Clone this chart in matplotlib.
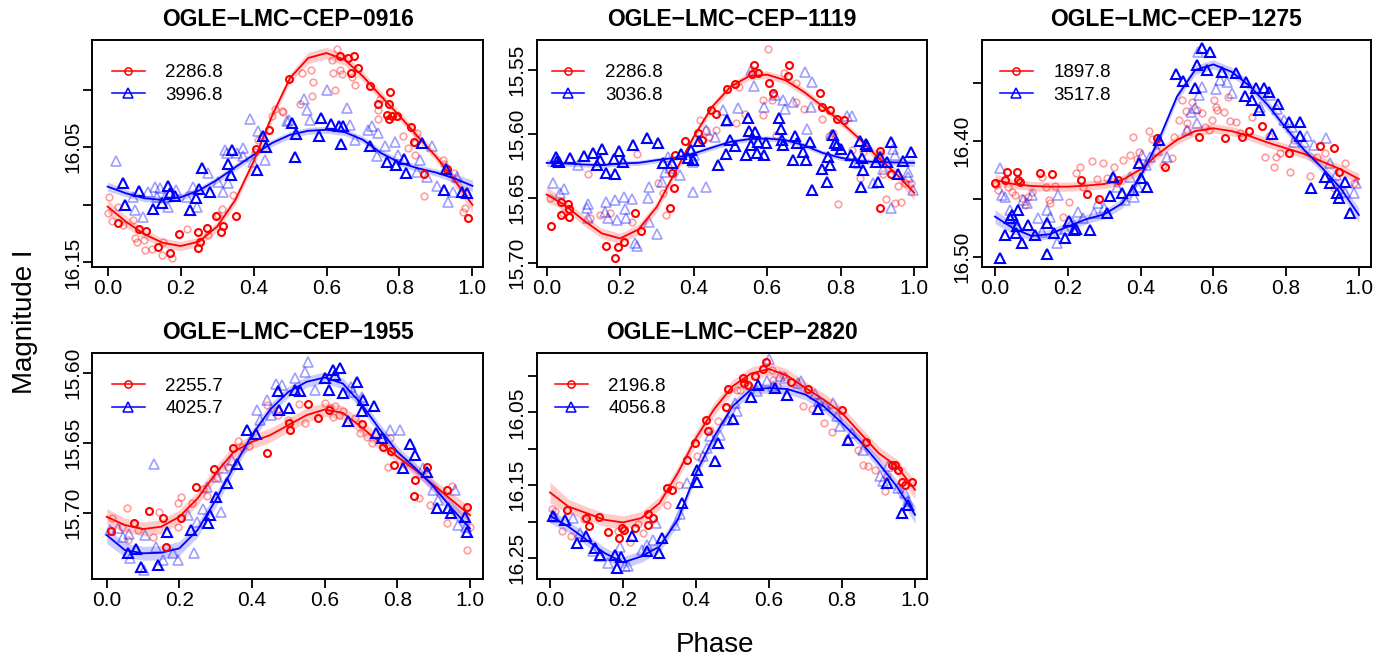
import matplotlib
matplotlib.use('Agg')
import matplotlib.pyplot as plt
from matplotlib.lines import Line2D

plt.rcParams['font.family'] = ['Liberation Sans', 'DejaVu Sans']

W, H = 1391, 661

# ---------------- data ----------------
phase_grid = [0.00, 0.05, 0.10, 0.15, 0.20, 0.25, 0.30, 0.35, 0.40, 0.45, 0.50,
              0.55, 0.60, 0.65, 0.70, 0.75, 0.80, 0.85, 0.90, 0.95, 1.00]
x_ticks = [0.0, 0.2, 0.4, 0.6, 0.8, 1.0]
x_ticklabels = ['0.0', '0.2', '0.4', '0.6', '0.8', '1.0']

titles = ['OGLE\u2212LMC\u2212CEP\u22120916', 'OGLE\u2212LMC\u2212CEP\u22121119',
          'OGLE\u2212LMC\u2212CEP\u22121275', 'OGLE\u2212LMC\u2212CEP\u22121955',
          'OGLE\u2212LMC\u2212CEP\u22122820']
legend_red = ['2286.8', '2286.8', '1897.8', '2255.7', '2196.8']
legend_blue = ['3996.8', '3036.8', '3517.8', '4025.7', '4056.8']

y_ticks = [[16.00, 16.05, 16.10, 16.15],
           [15.55, 15.60, 15.65, 15.70],
           [16.35, 16.40, 16.45, 16.50],
           [15.60, 15.65, 15.70],
           [16.00, 16.05, 16.10, 16.15, 16.20, 16.25]]
y_ticklabels = [['', '16.05', '', '16.15'],
                ['15.55', '15.60', '15.65', '15.70'],
                ['', '16.40', '', '16.50'],
                ['15.60', '15.65', '15.70'],
                ['', '16.05', '', '16.15', '', '16.25']]

# ---- Panel 1: OGLE-LMC-CEP-0916 ----
p1_red_fit = [16.1016, 16.1146, 16.1254, 16.1329, 16.1358, 16.1320, 16.1190, 16.0958, 16.0625, 16.0233, 15.9900,
              15.9726, 15.9683, 15.9741, 15.9886, 16.0059, 16.0228, 16.0407, 16.0581, 16.0784, 16.1001]
p1_blue_fit = [16.0842, 16.0900, 16.0943, 16.0958, 16.0935, 16.0877, 16.0784, 16.0674, 16.0567, 16.0465, 16.0393,
               16.0358, 16.0349, 16.0370, 16.0436, 16.0552, 16.0633, 16.0683, 16.0720, 16.0770, 16.0836]
p1_red_band = [0.006, 0.005, 0.004, 0.004, 0.004, 0.004, 0.004, 0.004, 0.004, 0.004, 0.004,
               0.005, 0.005, 0.005, 0.004, 0.004, 0.004, 0.004, 0.004, 0.005, 0.006]
p1_blue_band = [0.004, 0.003, 0.003, 0.003, 0.003, 0.003, 0.003, 0.003, 0.003, 0.003, 0.003,
                0.003, 0.003, 0.003, 0.003, 0.003, 0.003, 0.003, 0.003, 0.004, 0.005]
p1_red_dark = [(0.029, 16.1155), (0.087, 16.1213), (0.105, 16.1225), (0.139, 16.1364), (0.171, 16.1422),
               (0.197, 16.1254), (0.249, 16.1233), (0.253, 16.1320), (0.249, 16.1378), (0.273, 16.1204),
               (0.297, 16.1097), (0.310, 16.1233), (0.315, 16.1181), (0.352, 16.1094), (0.407, 16.0514),
               (0.443, 16.0355), (0.497, 15.9906), (0.637, 15.9706), (0.660, 15.9726), (0.675, 15.9706),
               (0.666, 15.9857), (0.687, 15.9813), (0.719, 15.9972), (0.774, 16.0025), (0.742, 16.0126),
               (0.772, 16.0126), (0.765, 16.0219), (0.779, 16.0228), (0.771, 16.0257), (0.794, 16.0228),
               (0.832, 16.0326), (0.840, 16.0454), (0.868, 16.0735), (0.930, 16.0691), (0.987, 16.1112)]
p1_red_faint = [(0.004, 16.0929), (0.002, 16.1074), (0.011, 16.1141), (0.043, 16.1175), (0.070, 16.1132),
                (0.029, 16.1016), (0.075, 16.1291), (0.080, 16.1320), (0.100, 16.1306), (0.102, 16.1393),
                (0.121, 16.1387), (0.148, 16.1436), (0.176, 16.1465), (0.153, 16.1320), (0.218, 16.1213),
                (0.276, 16.1262), (0.313, 16.1039), (0.303, 16.1088), (0.345, 16.0914), (0.404, 16.0538),
                (0.413, 16.0436), (0.422, 16.0407), (0.450, 16.0228), (0.459, 16.0170), (0.477, 16.0190),
                (0.480, 16.0199), (0.532, 15.9857), (0.557, 15.9828), (0.564, 15.9938), (0.559, 16.0054),
                (0.527, 16.0123), (0.614, 15.9746), (0.619, 15.9857), (0.628, 15.9645), (0.637, 15.9828),
                (0.642, 15.9862), (0.622, 16.0007), (0.669, 15.9894), (0.678, 15.9958), (0.742, 16.0175),
                (0.742, 16.0257), (0.746, 16.0083), (0.811, 16.0407), (0.824, 16.0503), (0.843, 16.0465),
                (0.847, 16.0378), (0.843, 16.0567), (0.868, 16.0923), (0.918, 16.0610), (0.922, 16.0645),
                (0.950, 16.0726), (0.973, 16.1065), (0.980, 16.1030)]
p1_blue_dark = [(0.043, 16.0813), (0.087, 16.0877), (0.048, 16.1001), (0.125, 16.1039), (0.166, 16.0833),
                (0.171, 16.0900), (0.185, 16.0920), (0.148, 16.0981), (0.226, 16.1045), (0.242, 16.0943),
                (0.251, 16.0865), (0.258, 16.0683), (0.281, 16.0886), (0.331, 16.0645), (0.337, 16.0741),
                (0.340, 16.0523), (0.409, 16.0697), (0.427, 16.0407), (0.433, 16.0497), (0.506, 16.0286),
                (0.516, 16.0387), (0.514, 16.0587), (0.580, 16.0407), (0.584, 16.0248), (0.612, 16.0297),
                (0.633, 16.0320), (0.646, 16.0314), (0.640, 16.0471), (0.719, 16.0488), (0.765, 16.0630),
                (0.790, 16.0654), (0.813, 16.0604), (0.818, 16.0720), (0.861, 16.0465), (0.928, 16.0691),
                (0.923, 16.0871), (0.971, 16.0886), (0.984, 16.0900)]
p1_blue_faint = [(0.023, 16.0616), (0.070, 16.0929), (0.075, 16.1045), (0.098, 16.1103), (0.112, 16.0886),
                 (0.130, 16.0842), (0.134, 16.0929), (0.144, 16.0857), (0.157, 16.0935), (0.166, 16.1016),
                 (0.187, 16.0871), (0.217, 16.0929), (0.235, 16.0842), (0.244, 16.1016), (0.276, 16.0726),
                 (0.303, 16.0799), (0.317, 16.0886), (0.322, 16.0523), (0.326, 16.0552), (0.331, 16.0813),
                 (0.354, 16.0552), (0.372, 16.0509), (0.372, 16.0581), (0.390, 16.0257), (0.399, 16.0625),
                 (0.413, 16.0364), (0.431, 16.0610), (0.491, 16.0277), (0.498, 16.0262), (0.538, 16.0083),
                 (0.546, 16.0175), (0.555, 16.0262), (0.601, 16.0007), (0.655, 16.0161), (0.665, 16.0306),
                 (0.678, 16.0436), (0.715, 16.0355), (0.724, 16.0314), (0.742, 16.0378), (0.761, 16.0488),
                 (0.738, 16.0581), (0.788, 16.0451), (0.797, 16.0567), (0.847, 16.0712), (0.856, 16.0610),
                 (0.888, 16.0494), (0.875, 16.0755), (0.902, 16.0836), (0.934, 16.0972), (0.948, 16.0886),
                 (0.957, 16.0755)]

# ---- Panel 2: OGLE-LMC-CEP-1119 ----
p2_red_fit = [15.6470, 15.6553, 15.6669, 15.6772, 15.6811, 15.6741, 15.6565, 15.6294, 15.6022, 15.5790, 15.5634,
              15.5552, 15.5539, 15.5583, 15.5673, 15.5784, 15.5906, 15.6035, 15.6178, 15.6307, 15.6457]
p2_blue_fit = [15.6224, 15.6229, 15.6237, 15.6242, 15.6229, 15.6224, 15.6203, 15.6185, 15.6152, 15.6105, 15.6061,
               15.6040, 15.6035, 15.6048, 15.6087, 15.6146, 15.6185, 15.6209, 15.6219, 15.6221, 15.6224]
p2_red_band = [0.006, 0.004, 0.004, 0.004, 0.004, 0.004, 0.004, 0.003, 0.003, 0.003, 0.003,
               0.003, 0.003, 0.003, 0.003, 0.003, 0.003, 0.003, 0.004, 0.004, 0.006]
p2_blue_band = [0.003, 0.002, 0.002, 0.002, 0.002, 0.002, 0.002, 0.002, 0.002, 0.002, 0.002,
                0.002, 0.002, 0.002, 0.002, 0.002, 0.002, 0.002, 0.002, 0.002, 0.003]
p2_red_dark = [(0.012, 15.6715), (0.039, 15.6532), (0.039, 15.6630), (0.059, 15.6540), (0.061, 15.6584),
               (0.062, 15.6643), (0.161, 15.6870), (0.186, 15.6966), (0.195, 15.6881), (0.211, 15.6842),
               (0.240, 15.6615), (0.258, 15.6752), (0.335, 15.6573), (0.346, 15.6423), (0.342, 15.6302),
               (0.349, 15.6165), (0.376, 15.6053), (0.413, 15.5991), (0.422, 15.6048), (0.447, 15.5810),
               (0.461, 15.5841), (0.490, 15.5653), (0.512, 15.5611), (0.558, 15.5531), (0.565, 15.5461),
               (0.574, 15.5526), (0.606, 15.5601), (0.617, 15.5681), (0.660, 15.5461), (0.657, 15.5552),
               (0.743, 15.5681), (0.748, 15.5790), (0.771, 15.5815), (0.789, 15.5880), (0.810, 15.5888),
               (0.907, 15.6131), (0.907, 15.6578), (0.938, 15.6307)]
p2_red_faint = [(0.009, 15.6496), (0.044, 15.6612), (0.113, 15.6312), (0.145, 15.6630), (0.118, 15.6656),
                (0.172, 15.6612), (0.245, 15.6157), (0.231, 15.6687), (0.304, 15.6379), (0.317, 15.6457),
                (0.326, 15.6630), (0.417, 15.5893), (0.433, 15.5971), (0.442, 15.6022), (0.462, 15.5971),
                (0.515, 15.5914), (0.524, 15.5634), (0.539, 15.5841), (0.565, 15.5500), (0.589, 15.5854),
                (0.589, 15.5733), (0.601, 15.5337), (0.612, 15.5738), (0.617, 15.5699), (0.623, 15.6004),
                (0.646, 15.5523), (0.678, 15.5603), (0.678, 15.5751), (0.701, 15.5803), (0.748, 15.5880),
                (0.769, 15.6017), (0.780, 15.5996), (0.793, 15.6540), (0.830, 15.6126), (0.852, 15.6338),
                (0.861, 15.6139), (0.898, 15.6190), (0.907, 15.6152), (0.914, 15.6312), (0.923, 15.6501),
                (0.947, 15.6534), (0.964, 15.6527), (0.956, 15.6402), (0.975, 15.6377), (0.990, 15.6384)]
p2_blue_dark = [(0.025, 15.6178), (0.027, 15.6211), (0.034, 15.6216), (0.063, 15.6183), (0.102, 15.6170),
                (0.125, 15.6144), (0.136, 15.6242), (0.150, 15.6113), (0.145, 15.6203), (0.161, 15.6302),
                (0.186, 15.6307), (0.183, 15.6198), (0.198, 15.6131), (0.207, 15.6216), (0.234, 15.6087),
                (0.272, 15.6035), (0.302, 15.6069), (0.317, 15.6229), (0.340, 15.6224), (0.365, 15.6157),
                (0.385, 15.6183), (0.393, 15.6126), (0.397, 15.6203), (0.414, 15.6053), (0.467, 15.6242),
                (0.490, 15.5893), (0.499, 15.6048), (0.512, 15.6095), (0.487, 15.6157), (0.542, 15.6165),
                (0.548, 15.5875), (0.551, 15.5978), (0.557, 15.6087), (0.567, 15.5983), (0.571, 15.6146),
                (0.576, 15.6061), (0.591, 15.6165), (0.598, 15.6069), (0.633, 15.5872), (0.639, 15.6048),
                (0.637, 15.5958), (0.644, 15.6082), (0.671, 15.6203), (0.675, 15.6017), (0.680, 15.6069),
                (0.698, 15.6139), (0.705, 15.6203), (0.716, 15.6061), (0.721, 15.6436), (0.748, 15.6268),
                (0.762, 15.6370), (0.766, 15.6178), (0.770, 15.6242), (0.780, 15.6009), (0.784, 15.6069),
                (0.791, 15.6087), (0.802, 15.6113), (0.829, 15.6165), (0.838, 15.6216), (0.852, 15.6053),
                (0.855, 15.6410), (0.857, 15.6185), (0.861, 15.6276), (0.869, 15.6074), (0.872, 15.6095),
                (0.896, 15.6216), (0.902, 15.6370), (0.907, 15.6178), (0.925, 15.6216), (0.938, 15.6061),
                (0.956, 15.6312), (0.970, 15.6211), (0.990, 15.6139)]
p2_blue_faint = [(0.018, 15.6377), (0.036, 15.6462), (0.048, 15.6428), (0.086, 15.6237), (0.109, 15.6578),
                 (0.113, 15.6540), (0.112, 15.6656), (0.161, 15.6527), (0.159, 15.6604), (0.168, 15.6656),
                 (0.186, 15.6514), (0.192, 15.6669), (0.210, 15.6488), (0.213, 15.6586), (0.217, 15.6656),
                 (0.231, 15.6501), (0.240, 15.6850), (0.245, 15.6871), (0.275, 15.6496), (0.279, 15.6682),
                 (0.278, 15.6410), (0.301, 15.6778), (0.313, 15.6372), (0.322, 15.6294), (0.331, 15.6178),
                 (0.337, 15.6263), (0.363, 15.6320), (0.399, 15.6216), (0.397, 15.6454), (0.401, 15.6165),
                 (0.433, 15.5971), (0.433, 15.6410), (0.458, 15.6022), (0.480, 15.5815), (0.488, 15.5896),
                 (0.521, 15.5795), (0.557, 15.5505), (0.564, 15.5629), (0.591, 15.5790), (0.621, 15.5699),
                 (0.642, 15.5738), (0.648, 15.5803), (0.669, 15.5751), (0.703, 15.5518), (0.721, 15.5596),
                 (0.707, 15.5965), (0.719, 15.5790), (0.775, 15.6009), (0.816, 15.5862), (0.832, 15.5862),
                 (0.848, 15.6229), (0.888, 15.6384), (0.916, 15.6268), (0.938, 15.6578), (0.943, 15.6113),
                 (0.947, 15.6165), (0.984, 15.6294), (0.984, 15.6333), (0.997, 15.6436)]

# ---- Panel 3: OGLE-LMC-CEP-1275 ----
p3_red_fit = [16.4337, 16.4372, 16.4389, 16.4395, 16.4395, 16.4386, 16.4372, 16.4337, 16.4245, 16.4107, 16.3991,
              16.3914, 16.3890, 16.3914, 16.3957, 16.4014, 16.4063, 16.4112, 16.4179, 16.4245, 16.4329]
p3_blue_fit = [16.4654, 16.4755, 16.4821, 16.4807, 16.4740, 16.4677, 16.4634, 16.4539, 16.4308, 16.3991, 16.3617,
               16.3386, 16.3337, 16.3401, 16.3524, 16.3689, 16.3890, 16.4078, 16.4236, 16.4409, 16.4640]
p3_red_band = [0.005, 0.004, 0.004, 0.004, 0.004, 0.004, 0.004, 0.004, 0.004, 0.004, 0.004,
               0.004, 0.004, 0.004, 0.004, 0.004, 0.004, 0.004, 0.004, 0.004, 0.005]
p3_blue_band = [0.006, 0.005, 0.004, 0.004, 0.004, 0.004, 0.004, 0.004, 0.004, 0.004, 0.004,
                0.004, 0.004, 0.004, 0.004, 0.004, 0.004, 0.004, 0.004, 0.005, 0.006]
p3_red_dark = [(0.000, 16.4366), (0.028, 16.4337), (0.032, 16.4265), (0.060, 16.4265), (0.064, 16.4337),
               (0.068, 16.4357), (0.124, 16.4280), (0.156, 16.4285), (0.236, 16.4337), (0.252, 16.4458),
               (0.287, 16.4504), (0.339, 16.4337), (0.445, 16.3977), (0.466, 16.4228), (0.561, 16.3968),
               (0.633, 16.3977), (0.679, 16.3968), (0.697, 16.3911), (0.734, 16.3867), (0.807, 16.4107),
               (0.894, 16.4043), (0.931, 16.4058), (0.945, 16.4265)]
p3_red_faint = [(0.003, 16.4380), (0.009, 16.4424), (0.037, 16.4395), (0.046, 16.4438), (0.055, 16.4467),
                (0.073, 16.4496), (0.083, 16.4553), (0.092, 16.4481), (0.101, 16.4438), (0.128, 16.4308),
                (0.140, 16.4395), (0.147, 16.4510), (0.151, 16.4539), (0.165, 16.4389), (0.188, 16.4654),
                (0.202, 16.4524), (0.223, 16.4280), (0.234, 16.4228), (0.241, 16.4395), (0.266, 16.4173),
                (0.280, 16.4329), (0.296, 16.4187), (0.307, 16.4323), (0.326, 16.4228), (0.335, 16.4366),
                (0.351, 16.4164), (0.372, 16.4121), (0.379, 16.3963), (0.390, 16.4159), (0.397, 16.4092),
                (0.422, 16.3914), (0.431, 16.3986), (0.445, 16.4035), (0.461, 16.4207), (0.486, 16.4150),
                (0.491, 16.3963), (0.507, 16.3818), (0.514, 16.3646), (0.526, 16.3738), (0.528, 16.3841),
                (0.529, 16.3905), (0.541, 16.3660), (0.555, 16.3732), (0.569, 16.3760), (0.578, 16.3876),
                (0.587, 16.3905), (0.596, 16.3818), (0.601, 16.3646), (0.606, 16.3703), (0.610, 16.3732),
                (0.628, 16.3746), (0.640, 16.3617), (0.647, 16.3824), (0.661, 16.3833), (0.674, 16.3934),
                (0.706, 16.3790), (0.743, 16.4135), (0.752, 16.3957), (0.766, 16.4222), (0.773, 16.4135),
                (0.784, 16.4107), (0.812, 16.4265), (0.821, 16.3991), (0.867, 16.4300), (0.885, 16.4135),
                (0.908, 16.4107), (0.931, 16.4409), (0.963, 16.4187), (0.986, 16.4366)]
p3_blue_dark = [(0.014, 16.5009), (0.028, 16.4813), (0.041, 16.4663), (0.046, 16.4640), (0.058, 16.4798),
                (0.061, 16.4735), (0.064, 16.4597), (0.073, 16.4885), (0.092, 16.4726), (0.110, 16.4813),
                (0.142, 16.4977), (0.144, 16.4712), (0.161, 16.4792), (0.193, 16.4841), (0.202, 16.4689),
                (0.216, 16.4769), (0.223, 16.4758), (0.261, 16.4767), (0.307, 16.4625), (0.317, 16.4476),
                (0.323, 16.4308), (0.349, 16.4452), (0.379, 16.4424), (0.397, 16.4187), (0.401, 16.4323),
                (0.417, 16.4395), (0.450, 16.3991), (0.498, 16.3421), (0.518, 16.3478), (0.550, 16.3545),
                (0.555, 16.3343), (0.569, 16.3199), (0.592, 16.3228), (0.583, 16.3386), (0.624, 16.3401),
                (0.661, 16.3415), (0.686, 16.3611), (0.691, 16.3487), (0.706, 16.3646), (0.716, 16.3545),
                (0.725, 16.3732), (0.739, 16.3545), (0.752, 16.3574), (0.761, 16.3940), (0.777, 16.3680),
                (0.807, 16.3833), (0.838, 16.3833), (0.838, 16.3957), (0.869, 16.4409), (0.908, 16.4308),
                (0.922, 16.4366), (0.940, 16.4452), (0.945, 16.4496), (0.963, 16.4352), (0.975, 16.4625)]
p3_blue_faint = [(0.014, 16.4236), (0.018, 16.4467), (0.028, 16.4481), (0.041, 16.4597), (0.055, 16.4683),
                 (0.078, 16.4510), (0.087, 16.4539), (0.101, 16.4467), (0.119, 16.4669), (0.128, 16.4784),
                 (0.142, 16.4597), (0.151, 16.4654), (0.170, 16.4885), (0.174, 16.4467), (0.193, 16.4764),
                 (0.211, 16.4697), (0.227, 16.4611), (0.243, 16.4669), (0.271, 16.4625), (0.284, 16.4539),
                 (0.300, 16.4582), (0.326, 16.4323), (0.335, 16.4395), (0.358, 16.4510), (0.372, 16.4308),
                 (0.381, 16.4481), (0.394, 16.4395), (0.404, 16.4121), (0.416, 16.4207), (0.427, 16.4135),
                 (0.445, 16.4078), (0.472, 16.4135), (0.528, 16.3905), (0.539, 16.3746), (0.550, 16.3718),
                 (0.557, 16.3228), (0.555, 16.3847), (0.562, 16.3602), (0.569, 16.3530), (0.606, 16.3553),
                 (0.619, 16.3473), (0.638, 16.3487), (0.651, 16.3588), (0.729, 16.3703), (0.757, 16.3602),
                 (0.775, 16.3726), (0.794, 16.3818), (0.817, 16.3876), (0.821, 16.4006), (0.849, 16.4006),
                 (0.858, 16.3957), (0.876, 16.4035), (0.911, 16.3977), (0.922, 16.4193), (0.936, 16.4294),
                 (0.963, 16.4438), (0.986, 16.4452), (0.991, 16.4366)]

# ---- Panel 4: OGLE-LMC-CEP-1955 ----
p4_red_fit = [15.7029, 15.7088, 15.7117, 15.7100, 15.7029, 15.6898, 15.6719, 15.6564, 15.6493, 15.6445, 15.6374,
              15.6302, 15.6262, 15.6286, 15.6386, 15.6493, 15.6600, 15.6695, 15.6802, 15.6910, 15.7017]
p4_blue_fit = [15.7160, 15.7267, 15.7290, 15.7286, 15.7255, 15.7124, 15.6910, 15.6671, 15.6445, 15.6262, 15.6136,
               15.6064, 15.6033, 15.6076, 15.6219, 15.6398, 15.6564, 15.6683, 15.6814, 15.6969, 15.7112]
p4_red_band = [0.006, 0.005, 0.005, 0.005, 0.005, 0.005, 0.005, 0.005, 0.005, 0.005, 0.005,
               0.005, 0.005, 0.005, 0.005, 0.005, 0.004, 0.004, 0.004, 0.005, 0.006]
p4_blue_band = [0.006, 0.005, 0.005, 0.005, 0.005, 0.005, 0.005, 0.004, 0.004, 0.004, 0.004,
                0.004, 0.004, 0.004, 0.004, 0.004, 0.004, 0.004, 0.004, 0.005, 0.006]
p4_red_dark = [(0.012, 15.7129), (0.076, 15.7071), (0.117, 15.6988), (0.156, 15.7040), (0.163, 15.7248),
               (0.205, 15.7040), (0.246, 15.6819), (0.295, 15.6690), (0.349, 15.6536), (0.440, 15.6576),
               (0.503, 15.6357), (0.505, 15.6410), (0.555, 15.6226), (0.583, 15.6326), (0.611, 15.6267),
               (0.702, 15.6362), (0.760, 15.6529), (0.782, 15.6557), (0.792, 15.6660), (0.849, 15.6767),
               (0.846, 15.6879), (0.883, 15.6671), (0.936, 15.6838), (0.991, 15.6957)]
p4_red_faint = [(0.014, 15.7036), (0.041, 15.7100), (0.055, 15.6969), (0.060, 15.7195), (0.087, 15.7124),
                (0.127, 15.7171), (0.145, 15.6993), (0.195, 15.6929), (0.197, 15.7100), (0.204, 15.6886),
                (0.234, 15.6933), (0.266, 15.6833), (0.275, 15.6879), (0.303, 15.6748), (0.335, 15.6671),
                (0.362, 15.6486), (0.372, 15.6529), (0.393, 15.6524), (0.440, 15.6231), (0.468, 15.6267),
                (0.472, 15.6302), (0.500, 15.6338), (0.528, 15.6224), (0.546, 15.6355), (0.601, 15.6214),
                (0.615, 15.6248), (0.624, 15.6319), (0.628, 15.6238), (0.640, 15.6302), (0.651, 15.6271),
                (0.683, 15.6326), (0.697, 15.6433), (0.716, 15.6457), (0.729, 15.6500), (0.780, 15.6469),
                (0.775, 15.6671), (0.817, 15.6648), (0.861, 15.6898), (0.890, 15.6945), (0.936, 15.7076),
                (0.950, 15.6807), (0.991, 15.7267), (1.000, 15.7100)]
p4_blue_dark = [(0.060, 15.7290), (0.081, 15.7262), (0.094, 15.7386), (0.142, 15.7374), (0.165, 15.7136),
                (0.232, 15.7124), (0.280, 15.7071), (0.284, 15.7017), (0.301, 15.6890), (0.330, 15.6786),
                (0.360, 15.6652), (0.385, 15.6405), (0.411, 15.6438), (0.472, 15.6131), (0.475, 15.6262),
                (0.503, 15.6248), (0.518, 15.6124), (0.532, 15.6129), (0.601, 15.6040), (0.613, 15.6124),
                (0.624, 15.5981), (0.628, 15.6017), (0.642, 15.5964), (0.650, 15.6143), (0.665, 15.6343),
                (0.690, 15.6064), (0.702, 15.6271), (0.706, 15.6195), (0.736, 15.6238), (0.741, 15.6433),
                (0.757, 15.6469), (0.815, 15.6683), (0.835, 15.6510), (0.849, 15.6588), (0.883, 15.6707),
                (0.908, 15.6969), (0.940, 15.6969), (0.947, 15.7005), (0.986, 15.7029), (0.991, 15.7136)]
p4_blue_faint = [(0.009, 15.7124), (0.032, 15.7112), (0.046, 15.7171), (0.062, 15.7152), (0.064, 15.7326),
                 (0.103, 15.7410), (0.105, 15.7160), (0.130, 15.6648), (0.136, 15.7243), (0.156, 15.7338),
                 (0.183, 15.7290), (0.197, 15.7338), (0.225, 15.7017), (0.239, 15.7286), (0.248, 15.7064),
                 (0.266, 15.6976), (0.275, 15.6814), (0.303, 15.6743), (0.314, 15.6993), (0.321, 15.6683),
                 (0.344, 15.6624), (0.413, 15.6267), (0.422, 15.6338), (0.440, 15.6195), (0.451, 15.6302),
                 (0.466, 15.6081), (0.482, 15.6088), (0.518, 15.6040), (0.546, 15.5993), (0.555, 15.5921),
                 (0.573, 15.6124), (0.672, 15.6100), (0.679, 15.6136), (0.702, 15.6176), (0.780, 15.6410),
                 (0.807, 15.6410), (0.872, 15.6683), (0.899, 15.6838), (0.913, 15.6910), (0.959, 15.6838),
                 (0.968, 15.7088), (0.990, 15.7100)]

# ---- Panel 5: OGLE-LMC-CEP-2820 ----
p5_red_fit = [16.1598, 16.1791, 16.1882, 16.1974, 16.2010, 16.1951, 16.1745, 16.1333, 16.0852, 16.0454, 16.0143,
              15.9969, 15.9905, 15.9997, 16.0166, 16.0326, 16.0509, 16.0784, 16.1058, 16.1241, 16.1562]
p5_blue_fit = [16.1919, 16.2065, 16.2248, 16.2431, 16.2559, 16.2477, 16.2340, 16.1974, 16.1333, 16.0830, 16.0418,
               16.0189, 16.0166, 16.0180, 16.0257, 16.0418, 16.0646, 16.0898, 16.1196, 16.1516, 16.1905]
p5_red_band = [0.014, 0.010, 0.009, 0.009, 0.009, 0.009, 0.009, 0.009, 0.009, 0.009, 0.009,
               0.009, 0.009, 0.009, 0.009, 0.009, 0.009, 0.009, 0.009, 0.010, 0.013]
p5_blue_band = [0.010, 0.008, 0.008, 0.008, 0.008, 0.008, 0.008, 0.007, 0.007, 0.007, 0.007,
                0.007, 0.007, 0.007, 0.007, 0.007, 0.007, 0.007, 0.008, 0.009, 0.012]
p5_red_dark = [(0.046, 16.1846), (0.099, 16.1951), (0.108, 16.2065), (0.134, 16.1937), (0.158, 16.2143),
               (0.189, 16.2225), (0.196, 16.2087), (0.203, 16.2111), (0.233, 16.2087), (0.269, 16.2051),
               (0.269, 16.1900), (0.281, 16.1946), (0.320, 16.1539), (0.333, 16.1562), (0.376, 16.1159),
               (0.397, 16.0921), (0.427, 16.0610), (0.434, 16.0761), (0.489, 16.0180), (0.482, 16.0427),
               (0.528, 16.0029), (0.532, 16.0097), (0.543, 16.0120), (0.562, 15.9997), (0.584, 15.9905),
               (0.591, 15.9814), (0.660, 16.0088), (0.708, 16.0180), (0.799, 16.0473), (0.865, 16.0912),
               (0.936, 16.1219), (0.945, 16.1219), (0.954, 16.1287), (0.963, 16.1461), (0.973, 16.1502),
               (0.991, 16.1461)]
p5_red_faint = [(0.005, 16.1827), (0.014, 16.1859), (0.032, 16.2134), (0.058, 16.2202), (0.094, 16.1965),
                (0.185, 16.2125), (0.219, 16.2285), (0.242, 16.2029), (0.254, 16.2157), (0.320, 16.1768),
                (0.354, 16.1502), (0.404, 16.1095), (0.438, 16.0738), (0.461, 16.0624), (0.482, 16.0440),
                (0.511, 16.0189), (0.521, 16.0198), (0.539, 16.0143), (0.607, 15.9914), (0.612, 16.0051),
                (0.621, 16.0143), (0.639, 15.9983), (0.694, 16.0408), (0.717, 16.0454), (0.751, 16.0646),
                (0.772, 16.0770), (0.813, 16.0875), (0.845, 16.1022), (0.857, 16.1219), (0.872, 16.1232),
                (0.890, 16.1287), (0.918, 16.1585), (0.922, 16.1379)]
p5_blue_dark = [(0.009, 16.1928), (0.041, 16.1974), (0.075, 16.2294), (0.099, 16.2193), (0.123, 16.2363),
                (0.137, 16.2454), (0.178, 16.2454), (0.183, 16.2637), (0.194, 16.2486), (0.226, 16.2193),
                (0.265, 16.2408), (0.306, 16.2225), (0.300, 16.2431), (0.361, 16.1745), (0.402, 16.1461),
                (0.404, 16.1287), (0.452, 16.1173), (0.461, 16.0921), (0.502, 16.0592), (0.550, 16.0289),
                (0.571, 16.0120), (0.616, 16.0166), (0.648, 16.0257), (0.735, 16.0454), (0.817, 16.0875),
                (0.922, 16.1470), (0.963, 16.1882), (0.982, 16.1768)]
p5_blue_faint = [(0.014, 16.1942), (0.064, 16.1951), (0.082, 16.2157), (0.117, 16.2408), (0.137, 16.2477),
                 (0.160, 16.2569), (0.192, 16.2349), (0.205, 16.2614), (0.215, 16.2605), (0.251, 16.2386),
                 (0.267, 16.2317), (0.281, 16.2248), (0.290, 16.2020), (0.342, 16.2042), (0.356, 16.1891),
                 (0.374, 16.1470), (0.418, 16.1104), (0.429, 16.0990), (0.438, 16.0830), (0.466, 16.0807),
                 (0.489, 16.0601), (0.507, 16.0372), (0.511, 16.0486), (0.566, 16.0212), (0.594, 16.0074),
                 (0.601, 15.9768), (0.612, 16.0143), (0.630, 16.0006), (0.644, 16.0029), (0.680, 16.0097),
                 (0.689, 16.0074), (0.726, 16.0244), (0.738, 16.0349), (0.753, 16.0395), (0.776, 16.0372),
                 (0.785, 16.0555), (0.795, 16.0692), (0.826, 16.0784), (0.858, 16.1013), (0.904, 16.1379),
                 (0.913, 16.1447), (0.927, 16.1241), (0.954, 16.1539), (0.973, 16.1608), (0.982, 16.1722)]

red_fits = [p1_red_fit, p2_red_fit, p3_red_fit, p4_red_fit, p5_red_fit]
blue_fits = [p1_blue_fit, p2_blue_fit, p3_blue_fit, p4_blue_fit, p5_blue_fit]
red_bands = [p1_red_band, p2_red_band, p3_red_band, p4_red_band, p5_red_band]
blue_bands = [p1_blue_band, p2_blue_band, p3_blue_band, p4_blue_band, p5_blue_band]
red_darks = [p1_red_dark, p2_red_dark, p3_red_dark, p4_red_dark, p5_red_dark]
red_faints = [p1_red_faint, p2_red_faint, p3_red_faint, p4_red_faint, p5_red_faint]
blue_darks = [p1_blue_dark, p2_blue_dark, p3_blue_dark, p4_blue_dark, p5_blue_dark]
blue_faints = [p1_blue_faint, p2_blue_faint, p3_blue_faint, p4_blue_faint, p5_blue_faint]

# ---------------- layout (pixels) ----------------
boxes = [(92.3, 40, 483, 267), (536.7, 40, 926.7, 267), (981.7, 40, 1370.5, 267),
         (92.3, 353.3, 482.7, 579.3), (536.7, 353.3, 926.7, 579.3)]
xlims = [(-0.042, 1.029), (-0.027, 1.034), (-0.0366, 1.032), (-0.0396, 1.035), (-0.0364, 1.032)]
ylims = [(16.154, 15.957), (15.7033, 15.527), (16.509, 16.3126), (15.7476, 15.586), (16.279, 15.969)]
legend_x = [0.050, 0.038, 0.047, 0.050, 0.047]

RED = '#FF0000'
BLUE = '#0000FF'

fig = plt.figure(figsize=(W / 100, H / 100), dpi=100)


def scatter(ax, pts, marker, color, ms, mew, alpha, z):
    xs = [p[0] for p in pts]
    ys = [p[1] for p in pts]
    ax.plot(xs, ys, linestyle='none', marker=marker, ms=ms, mfc='none', mec=color,
            mew=mew, alpha=alpha, zorder=z)


for i in range(5):
    x0, y0, x1, y1 = boxes[i]
    ax = fig.add_axes([x0 / W, 1 - y1 / H, (x1 - x0) / W, (y1 - y0) / H])
    ax.set_xlim(*xlims[i])
    ax.set_ylim(*ylims[i])

    # faint points (other epochs)
    scatter(ax, red_faints[i], 'o', RED, 4.8, 1.2, 0.38, 2)
    scatter(ax, blue_faints[i], '^', BLUE, 6.6, 1.2, 0.38, 2)

    # confidence bands
    rlo = [m - b for m, b in zip(red_fits[i], red_bands[i])]
    rhi = [m + b for m, b in zip(red_fits[i], red_bands[i])]
    blo = [m - b for m, b in zip(blue_fits[i], blue_bands[i])]
    bhi = [m + b for m, b in zip(blue_fits[i], blue_bands[i])]
    ax.fill_between(phase_grid, rlo, rhi, color=RED, alpha=0.2, lw=0, zorder=3)
    ax.fill_between(phase_grid, blo, bhi, color=BLUE, alpha=0.2, lw=0, zorder=3)

    # fitted curves
    ax.plot(phase_grid, red_fits[i], color=RED, lw=1.3, zorder=4)
    ax.plot(phase_grid, blue_fits[i], color=BLUE, lw=1.3, zorder=4)

    # dark points (reference epoch)
    scatter(ax, red_darks[i], 'o', RED, 5.0, 1.5, 1.0, 5)
    scatter(ax, blue_darks[i], '^', BLUE, 7.0, 1.5, 1.0, 5)

    # axes styling
    ax.set_xticks(x_ticks)
    ax.set_xticklabels(x_ticklabels)
    ax.set_yticks(y_ticks[i])
    ax.set_yticklabels(y_ticklabels[i], rotation=90, va='center')
    ax.tick_params(axis='both', direction='out', length=6.5, width=1.3,
                   labelsize=15, color='black')
    ax.tick_params(axis='x', pad=2)
    ax.tick_params(axis='y', pad=1)
    for s in ax.spines.values():
        s.set_linewidth(1.4)

    ax.set_title(titles[i], fontsize=16.5, fontweight='bold', pad=10)

    handles = [Line2D([0], [0], color=RED, lw=1.1, marker='o', ms=5.2, mfc='none', mec=RED, mew=1.1),
               Line2D([0], [0], color=BLUE, lw=1.1, marker='^', ms=7.5, mfc='none', mec=BLUE, mew=1.1)]
    ax.legend(handles, [legend_red[i], legend_blue[i]], loc='upper left',
              bbox_to_anchor=(legend_x[i], 0.893), frameon=False, fontsize=13.5,
              handlelength=1.75, handletextpad=1.1, labelspacing=0.29,
              borderpad=0, borderaxespad=0, numpoints=1)

fig.text(25 / W, 1 - 322 / H, 'Magnitude I', rotation=90, ha='center', va='center', fontsize=20)
fig.text(715 / W, 1 - 652 / H, 'Phase', ha='center', va='baseline', fontsize=20)

fig.savefig('out.png', dpi=100)
